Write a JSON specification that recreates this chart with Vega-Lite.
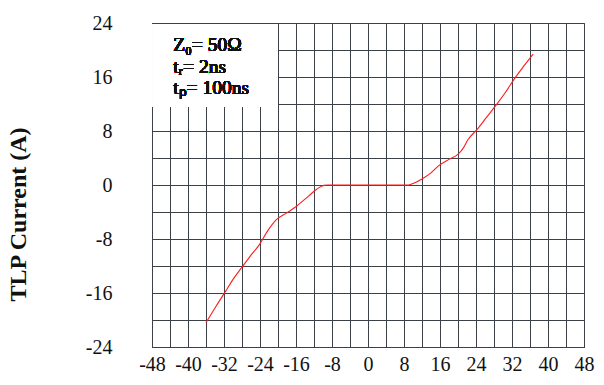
{
  "$schema": "https://vega.github.io/schema/vega-lite/v6.json",
  "width": 432,
  "height": 324,
  "autosize": {"type": "none"},
  "padding": {"left": 152, "top": 23, "right": 20, "bottom": 38},
  "background": "white",
  "config": {
    "view": {"stroke": "#3c4148", "strokeWidth": 1},
    "font": "Liberation Serif"
  },
  "data": {
    "values": [
      {"v": -36, "i": -20.4},
      {"v": -33.8, "i": -18.0},
      {"v": -31.7, "i": -15.8},
      {"v": -29.8, "i": -13.8},
      {"v": -27.8, "i": -12.0},
      {"v": -26.0, "i": -10.4},
      {"v": -24.1, "i": -8.8},
      {"v": -22.3, "i": -6.8},
      {"v": -20.3, "i": -5.1},
      {"v": -18.2, "i": -4.2},
      {"v": -16.2, "i": -3.3},
      {"v": -14.0, "i": -2.1},
      {"v": -12.1, "i": -1.0},
      {"v": -10.8, "i": -0.35},
      {"v": -9.8, "i": -0.05},
      {"v": -9.0, "i": 0},
      {"v": -4, "i": 0},
      {"v": 0, "i": 0},
      {"v": 4, "i": 0},
      {"v": 9.0, "i": 0},
      {"v": 10.3, "i": 0.3},
      {"v": 12.0, "i": 0.9},
      {"v": 14.0, "i": 1.8},
      {"v": 15.8, "i": 2.9},
      {"v": 18.0, "i": 3.8},
      {"v": 20.1, "i": 4.6},
      {"v": 21.2, "i": 5.5},
      {"v": 22.2, "i": 6.7},
      {"v": 24.2, "i": 8.2},
      {"v": 26.2, "i": 9.9},
      {"v": 28.2, "i": 11.6},
      {"v": 30.4, "i": 13.6},
      {"v": 32.6, "i": 15.8},
      {"v": 34.6, "i": 17.6},
      {"v": 36.7, "i": 19.4}
    ]
  },
  "layer": [
    {
      "mark": {"type": "line", "color": "#ff1a1a", "strokeWidth": 1.1, "interpolate": "monotone", "clip": true},
      "encoding": {
        "x": {
          "field": "v", "type": "quantitative",
          "scale": {"domain": [-48, 48], "nice": false, "zero": false},
          "axis": {
            "title": null,
            "values": [-48,-44,-40,-36,-32,-28,-24,-20,-16,-12,-8,-4,0,4,8,12,16,20,24,28,32,36,40,44,48],
            "tickCount": 40,
            "labelExpr": "datum.value % 8 === 0 ? '' + datum.value : ''",
            "grid": true, "gridColor": "#3c4148", "gridOpacity": 1, "gridWidth": 1,
            "ticks": false, "tickSize": 0,
            "domain": true, "domainColor": "#3c4148",
            "labelFont": "Liberation Serif", "labelFontSize": 20, "labelColor": "#111111",
            "labelPadding": 7, "labelOverlap": false, "labelFlush": false, "labelBound": false
          }
        },
        "y": {
          "field": "i", "type": "quantitative",
          "scale": {"domain": [-24, 24], "nice": false, "zero": false},
          "axis": {
            "title": "TLP Current (A)",
            "values": [-24,-20,-16,-12,-8,-4,0,4,8,12,16,20,24],
            "tickCount": 40,
            "labelExpr": "datum.value % 8 === 0 ? '' + datum.value : ''",
            "grid": true, "gridColor": "#3c4148", "gridOpacity": 1, "gridWidth": 1,
            "ticks": false, "tickSize": 0,
            "domain": true, "domainColor": "#3c4148",
            "labelFont": "Liberation Serif", "labelFontSize": 20, "labelColor": "#111111",
            "labelPadding": 40, "labelOverlap": false, "labelFlush": false, "labelBound": false,
            "titleFont": "Liberation Serif", "titleFontSize": 24, "titleFontWeight": "bold",
            "titleColor": "#111111", "titleX": -122, "titleY": 191
          }
        }
      }
    },
    {
      "mark": {"type": "rect", "fill": "white", "stroke": null},
      "encoding": {
        "x": {"datum": -47.85},
        "x2": {"datum": -20.15},
        "y": {"datum": 11.6},
        "y2": {"datum": 23.85}
      }
    },
    {
      "mark": {
        "type": "text", "align": "left", "baseline": "alphabetic",
        "font": "Liberation Serif", "fontSize": 19.5, "lineHeight": 21.5, "color": "#111111"
      },
      "encoding": {
        "x": {"datum": -43.3},
        "y": {"datum": 19.8},
        "text": {"value": ["Z₀= 50Ω", "tᵣ= 2ns", "tₚ= 100ns"]}
      }
    }
  ]
}
